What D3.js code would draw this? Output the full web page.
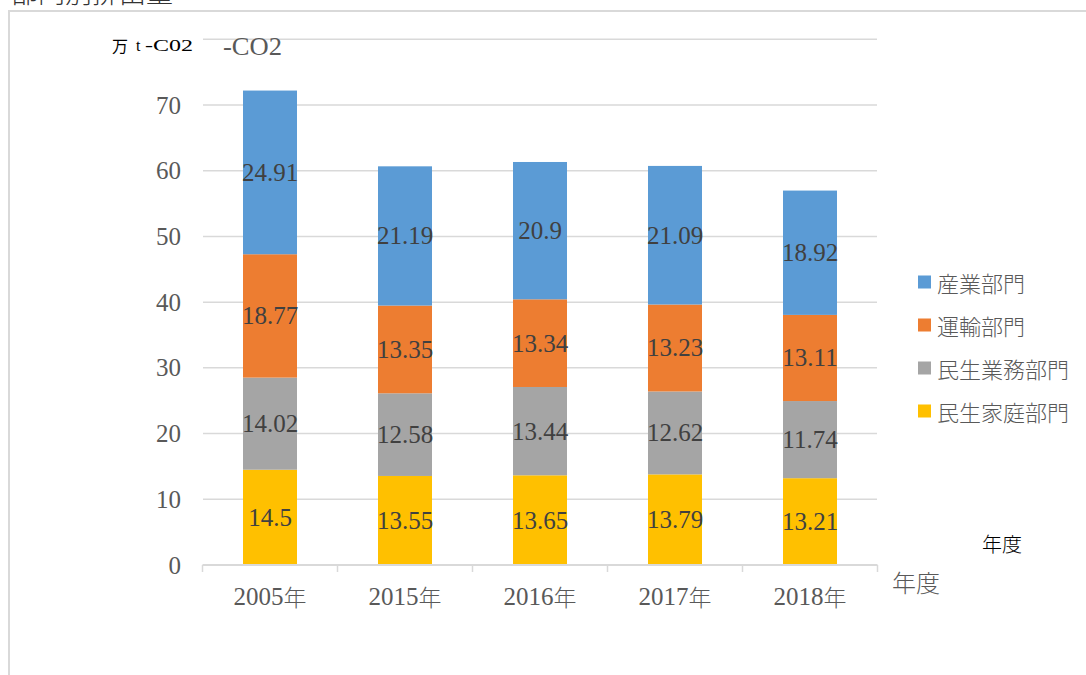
<!DOCTYPE html>
<html>
<head>
<meta charset="utf-8">
<title>部門別排出量</title>
</head>
<body style="margin:0;background:#fff">
<svg width="1086" height="675" style="display:block"></svg>
<script src="https://d3js.org/d3.v7.min.js"></script>
<script>
// 年度
var years = ["2005年", "2015年", "2016年", "2017年", "2018年"];
// 部門 (下から積み上げ)
var sectors = ["民生家庭部門", "民生業務部門", "運輸部門", "産業部門"];
var katei   = [14.5, 13.55, 13.65, 13.79, 13.21];
var gyomu   = [14.02, 12.58, 13.44, 12.62, 11.74];
var unyu    = [18.77, 13.35, 13.34, 13.23, 13.11];
var sangyo  = [24.91, 21.19, 20.9, 21.09, 18.92];
var yTicks  = [0, 10, 20, 30, 40, 50, 60, 70, 80];
var colors  = ["#FFC000", "#A5A5A5", "#ED7D31", "#5B9BD5"];

var SERIF = "'Liberation Serif', 'Noto Sans CJK JP', serif";
var JP = "'Noto Sans CJK JP', sans-serif";

var series = [katei, gyomu, unyu, sangyo];
var table = years.map(function(y, i) {
  var row = { year: y };
  sectors.forEach(function(s, k) { row[s] = series[k][i]; });
  return row;
});

var svg = d3.select("svg");

// 外枠とタイトル
svg.append("rect").attr("x", 9).attr("y", 11).attr("width", 1100).attr("height", 700)
  .attr("fill", "none").attr("stroke", "#d9d9d9").attr("stroke-width", 2);
svg.append("text").style("font-family", JP).style("font-weight", 300)
  .attr("x", 11).attr("y", 3).attr("font-size", 27).attr("fill", "#333").text("部門別排出量");

var x = d3.scaleBand().domain(years).range([202.5, 877.5]).paddingInner(0.6).paddingOuter(0.3);
var y = d3.scaleLinear().domain([0, 80]).range([565, 39.3]);

// グリッド
svg.append("g").selectAll("line").data(yTicks.slice(1)).enter().append("line")
  .attr("x1", 203).attr("x2", 877)
  .attr("y1", function(d) { return y(d); }).attr("y2", function(d) { return y(d); })
  .attr("stroke", "#d9d9d9").attr("stroke-width", 1.5);

// 積み上げ
var stack = d3.stack().keys(sectors)(table);
var layers = svg.append("g").selectAll("g").data(stack).enter().append("g")
  .attr("fill", function(d, i) { return colors[i]; });
layers.selectAll("rect").data(function(d) { return d; }).enter().append("rect")
  .attr("x", function(d) { return x(d.data.year); })
  .attr("width", x.bandwidth())
  .attr("y", function(d) { return y(d[1]); })
  .attr("height", function(d) { return y(d[0]) - y(d[1]); });

// 値ラベル
layers.selectAll("text").data(function(d) { return d; }).enter().append("text")
  .style("font-family", SERIF)
  .attr("x", function(d) { return x(d.data.year) + x.bandwidth() / 2; })
  .attr("y", function(d) { return (y(d[0]) + y(d[1])) / 2; })
  .attr("text-anchor", "middle").attr("dominant-baseline", "central")
  .attr("font-size", 25).attr("fill", "#404040")
  .text(function(d) { return +(d[1] - d[0]).toFixed(2); });

// x軸
var xa = svg.append("g");
xa.append("line").attr("x1", 202.5).attr("x2", 877.5).attr("y1", 565).attr("y2", 565)
  .attr("stroke", "#d9d9d9").attr("stroke-width", 2);
var edges = years.map(function(d) { return x(d) + x.bandwidth() / 2 - x.step() / 2; });
edges.push(x.range()[1]);
xa.selectAll(".tk").data(edges).enter().append("line")
  .attr("x1", function(d) { return d; }).attr("x2", function(d) { return d; })
  .attr("y1", 565).attr("y2", 572).attr("stroke", "#d9d9d9").attr("stroke-width", 1.5);
var xl = xa.selectAll("text").data(years).enter().append("text")
  .attr("x", function(d) { return x(d) + x.bandwidth() / 2; }).attr("y", 596)
  .attr("text-anchor", "middle").attr("dominant-baseline", "central")
  .attr("font-size", 25).attr("fill", "#595959");
xl.append("tspan").style("font-family", SERIF).text(function(d) { return d.slice(0, -1); });
xl.append("tspan").style("font-family", JP).style("font-weight", 300).attr("font-size", 23)
  .text(function(d) { return d.slice(-1); });

// y軸ラベル
svg.append("g").selectAll("text").data(yTicks.slice(0, 8)).enter().append("text")
  .style("font-family", SERIF).attr("x", 181).attr("y", function(d) { return y(d); })
  .attr("text-anchor", "end").attr("dominant-baseline", "central")
  .attr("font-size", 25).attr("fill", "#595959").text(function(d) { return d; });

// 単位
svg.append("text").style("font-family", JP)
  .attr("x", 112).attr("y", 45).attr("dominant-baseline", "central")
  .attr("font-size", 16).attr("fill", "#000").text("万");
svg.append("text").style("font-family", SERIF)
  .attr("x", 136).attr("y", 45).attr("dominant-baseline", "central")
  .attr("font-size", 16).attr("fill", "#000").text("t");
svg.append("text").style("font-family", SERIF)
  .attr("x", 145).attr("y", 45).attr("dominant-baseline", "central")
  .attr("font-size", 16).attr("fill", "#000")
  .attr("textLength", 48).attr("lengthAdjust", "spacingAndGlyphs").text("-C02");
svg.append("text").style("font-family", SERIF).attr("x", 223).attr("y", 46)
  .attr("dominant-baseline", "central").attr("font-size", 26).attr("fill", "#595959")
  .attr("textLength", 59).attr("lengthAdjust", "spacingAndGlyphs").text("-CO2");
svg.append("text").style("font-family", JP).style("font-weight", 300)
  .attr("x", 982).attr("y", 543)
  .attr("dominant-baseline", "central").attr("font-size", 20).attr("fill", "#000")
  .text("年度");
svg.append("text").style("font-family", JP).style("font-weight", 300)
  .attr("x", 892).attr("y", 581)
  .attr("dominant-baseline", "central").attr("font-size", 24).attr("fill", "#595959")
  .text("年度");

// 凡例
var legendOrder = sectors.slice().reverse();
var lg = svg.append("g").selectAll("g").data(legendOrder).enter().append("g")
  .attr("transform", function(d, i) { return "translate(918," + (282 + i * 43) + ")"; });
lg.append("rect").attr("x", 0).attr("y", -6.5).attr("width", 13).attr("height", 13)
  .attr("fill", function(d) { return colors[sectors.indexOf(d)]; });
lg.append("text").style("font-family", JP).style("font-weight", 300).attr("x", 19).attr("y", 0)
  .attr("dominant-baseline", "central").attr("font-size", 22).attr("fill", "#595959")
  .text(function(d) { return d; });
</script>
</body>
</html>
